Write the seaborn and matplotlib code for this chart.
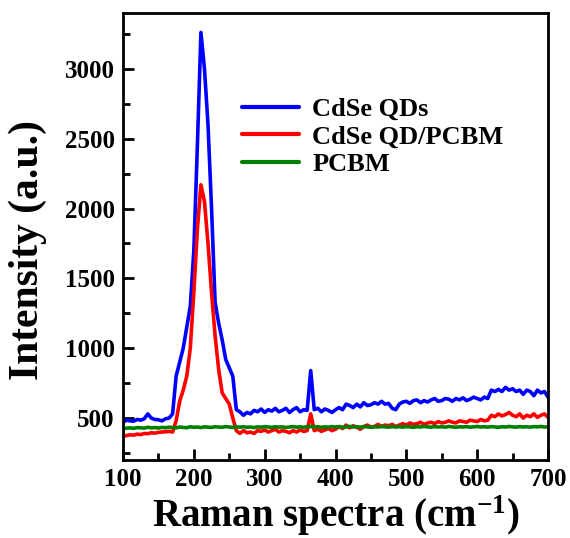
import numpy as np
import pandas as pd
import matplotlib
matplotlib.use("Agg")
import matplotlib.pyplot as plt
import seaborn as sns
from matplotlib.ticker import MultipleLocator

wavenumber = np.arange(100, 701, 5)

cdse_qds = [
    470, 485, 480, 478, 490, 485, 495, 530, 500, 490,
    488, 480, 495, 500, 530, 800, 900, 1000, 1150, 1300,
    1700, 2450, 3260, 3000, 2600, 2000, 1330, 1180, 1060, 920,
    860, 800, 560, 545, 520, 540, 530, 555, 545, 565,
    540, 560, 550, 570, 545, 555, 570, 540, 560, 575,
    545, 560, 555, 840, 560, 570, 545, 565, 555, 540,
    560, 575, 560, 600, 590, 575, 600, 580, 610, 590,
    595, 610, 600, 620, 600, 605, 570, 560, 600, 615,
    620, 605, 625, 630, 610, 625, 615, 630, 640, 620,
    625, 640, 635, 620, 640, 630, 645, 625, 635, 650,
    640, 630, 650, 640, 700, 690, 705, 690, 720, 700,
    710, 690, 700, 670, 700, 690, 660, 700, 680, 690,
    650,
]

cdse_pcbm = [
    370, 375, 380, 378, 385, 382, 390, 388, 395, 392,
    398, 400, 402, 405, 400, 480, 620, 700, 800, 1000,
    1400, 1850, 2170, 2050, 1750, 1400, 1090, 850, 680, 640,
    600, 500, 410, 390, 410, 395, 400, 390, 410, 405,
    415, 400, 410, 420, 400, 410, 405, 395, 410, 400,
    415, 405, 410, 530, 410, 420, 405, 415, 425, 410,
    420, 440, 425, 450, 430, 445, 435, 420, 440, 450,
    435, 440, 455, 440, 450, 445, 455, 440, 450, 460,
    450, 465, 455, 460, 470, 455, 465, 470, 460, 475,
    465, 470, 480, 470, 465, 480, 475, 470, 485, 480,
    475, 490, 480, 485, 520, 510, 530, 515, 525, 540,
    520, 510, 530, 500, 520, 510, 530, 505, 520, 530,
    505,
]

pcbm = [
    425, 428, 430, 426, 432, 430, 428, 434, 430, 432,
    429, 433, 431, 435, 432, 430, 436, 433, 431, 438,
    434, 436, 432, 437, 435, 433, 438, 436, 434, 439,
    436, 433, 437, 435, 438, 434, 436, 432, 437, 435,
    439, 436, 434, 438, 435, 437, 433, 436, 439, 435,
    437, 434, 438, 440, 436, 438, 434, 437, 435, 439,
    436, 438, 434, 437, 440, 436, 438, 435, 439, 437,
    434, 438, 436, 440, 437, 435, 439, 436, 438, 435,
    439, 437, 434, 438, 436, 440, 437, 435, 439, 436,
    438, 435, 440, 437, 434, 438, 436, 439, 435, 437,
    440, 436, 438, 435, 439, 437, 434, 438, 436, 440,
    437, 435, 439, 436, 438, 435, 439, 437, 440, 436,
    438,
]

labels = ["CdSe QDs", "CdSe QD/PCBM", "PCBM"]
colors = ["#0000ff", "#ff0000", "#008000"]

df = pd.concat([
    pd.DataFrame({"x": wavenumber, "y": cdse_qds, "s": labels[0]}),
    pd.DataFrame({"x": wavenumber, "y": cdse_pcbm, "s": labels[1]}),
    pd.DataFrame({"x": wavenumber, "y": pcbm, "s": labels[2]}),
])

sns.set_style("ticks")
plt.rcParams["font.family"] = ["Liberation Serif", "DejaVu Serif"]
plt.rcParams["font.weight"] = "bold"
plt.rcParams["text.color"] = "black"
plt.rcParams["axes.labelcolor"] = "black"
plt.rcParams["xtick.color"] = "black"
plt.rcParams["ytick.color"] = "black"
plt.rcParams["mathtext.fontset"] = "custom"
plt.rcParams["mathtext.rm"] = "Liberation Serif:bold"
plt.rcParams["mathtext.it"] = "Liberation Serif:bold"
plt.rcParams["mathtext.bf"] = "Liberation Serif:bold"

fig = plt.figure(figsize=(5.7, 5.38), dpi=100)
ax = fig.add_axes([0.2158, 0.145, 0.7456, 0.831])

sns.lineplot(data=df, x="x", y="y", hue="s", palette=colors, hue_order=labels,
             linewidth=2.6, ax=ax, estimator=None, sort=False)

ax.set_xlim(100, 700)
ax.set_ylim(200, 3400)
ax.xaxis.set_major_locator(MultipleLocator(100))
ax.xaxis.set_minor_locator(MultipleLocator(50))
ax.yaxis.set_major_locator(MultipleLocator(500))
ax.yaxis.set_minor_locator(MultipleLocator(250))
ax.set_yticks([500, 1000, 1500, 2000, 2500, 3000])
ax.tick_params(which="both", direction="in", top=False, right=False, width=2, colors="black")
ax.tick_params(which="major", length=8, labelsize=18, pad=6)
ax.tick_params(which="minor", length=5)
for t in ax.get_xticklabels() + ax.get_yticklabels():
    t.set_fontweight("bold")
for sp in ax.spines.values():
    sp.set_linewidth(2)
    sp.set_color("black")

ax.set_xlabel("Raman spectra (cm$^{-1}$)", fontsize=28, fontweight="bold")
ax.xaxis.set_label_coords(0.5, -0.15)
ax.xaxis.label.set_va("baseline")
ax.set_ylabel("Intensity (a.u.)", fontsize=30, fontweight="bold")
ax.yaxis.set_label_coords(-0.18, 0.47)

leg = ax.legend(loc="upper left", bbox_to_anchor=(0.25, 0.84), frameon=False,
                prop={"family": "Liberation Serif", "weight": "bold", "size": 19},
                handlelength=2.15, handletextpad=0.5, labelspacing=0.15, borderpad=0)
for line in leg.get_lines():
    line.set_linewidth(3)

fig.savefig("out.png", dpi=100)
